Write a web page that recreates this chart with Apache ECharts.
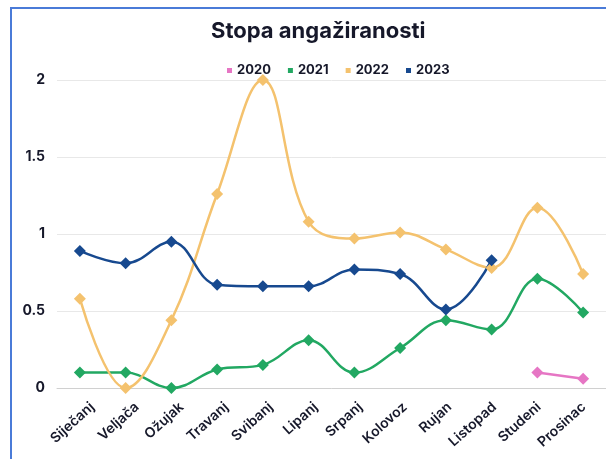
<!DOCTYPE html>
<html>
<head>
<meta charset="utf-8">
<script src="https://cdn.jsdelivr.net/npm/echarts@6/dist/echarts.min.js"></script>
<style>
  html, body { margin: 0; padding: 0; background: #fff; overflow: hidden; }
  .frame {
    position: absolute;
    left: 10px;
    top: 7px;
    width: 620px;
    height: 480px;
    border-left: 2px solid #4a7bd8;
    border-top: 2px solid #4a7bd8;
    pointer-events: none;
  }
  #chart { position: absolute; left: 0; top: 0; width: 606px; height: 459px; }
</style>
</head>
<body>
<div id="chart"></div>
<div class="frame"></div>
<script>
const months = ['Siječanj', 'Veljača', 'Ožujak', 'Travanj', 'Svibanj', 'Lipanj', 'Srpanj', 'Kolovoz', 'Rujan', 'Listopad', 'Studeni', 'Prosinac']
const years = ['2020', '2021', '2022', '2023']

// values
const data2020 = [null, null, null, null, null, null, null, null, null, null, 0.10, 0.06]
const data2021 = [0.10, 0.10, 0.00, 0.12, 0.15, 0.31, 0.10, 0.26, 0.44, 0.38, 0.71, 0.49]
const data2022 = [0.58, 0.00, 0.44, 1.26, 2.00, 1.08, 0.97, 1.01, 0.90, 0.78, 1.17, 0.74]
const data2023 = [0.89, 0.81, 0.95, 0.67, 0.66, 0.66, 0.77, 0.74, 0.51, 0.83, null, null]

const colors = ['#e676c4', '#22a862', '#f4c26e', '#17498f']
const textColor = '#16182a'
const fontFamily = 'Inter, "Noto Sans", sans-serif'

const chart = echarts.init(document.getElementById('chart'))

const makeSeries = (name, values, color) => ({
  name,
  type: 'line',
  data: values,
  smooth: 0.4,
  symbol: 'diamond',
  symbolSize: 12,
  lineStyle: { color, width: 2.5 },
  itemStyle: { color }
})

chart.setOption({
  backgroundColor: 'transparent',
  animation: false,
  title: {
    text: 'Stopa angažiranosti',
    left: 206,
    top: 15,
    textStyle: {
      fontFamily,
      fontSize: 22,
      fontWeight: 'bold',
      color: textColor
    }
  },
  legend: {
    data: years,
    left: 222,
    top: 59,
    icon: 'rect',
    itemWidth: 5,
    itemHeight: 5,
    itemGap: 17,
    textStyle: {
      fontFamily,
      fontSize: 13,
      fontWeight: 'bold',
      color: textColor
    }
  },
  grid: [
    { left: 57, right: -10, top: 80, bottom: 71 },
    // second grid only carries the month labels, nudged like in the original
    { left: 70, right: -23, top: 80, bottom: 71 }
  ],
  xAxis: [
    {
      type: 'category',
      data: months,
      gridIndex: 0,
      axisLine: { lineStyle: { color: '#d0d0d0', width: 1 } },
      axisTick: { show: false },
      axisLabel: { show: false }
    },
    {
      type: 'category',
      data: months,
      gridIndex: 1,
      axisLine: { show: false },
      axisTick: { show: false },
      axisLabel: {
        rotate: 42,
        interval: 0,
        margin: 17,
        fontFamily,
        fontSize: 14,
        fontWeight: 600,
        color: textColor
      }
    }
  ],
  yAxis: [
    {
      type: 'value',
      gridIndex: 0,
      min: 0,
      max: 2,
      interval: 0.5,
      axisLine: { show: false },
      axisTick: { show: false },
      axisLabel: {
        margin: 12,
        fontFamily,
        fontSize: 14,
        fontWeight: 'bold',
        color: textColor
      },
      splitLine: { lineStyle: { color: '#e8e8e8', width: 1 } }
    },
    {
      type: 'value',
      gridIndex: 1,
      min: 0,
      max: 2,
      show: false
    }
  ],
  series: [
    makeSeries('2020', data2020, colors[0]),
    makeSeries('2021', data2021, colors[1]),
    makeSeries('2022', data2022, colors[2]),
    makeSeries('2023', data2023, colors[3])
  ]
})
</script>
</body>
</html>
